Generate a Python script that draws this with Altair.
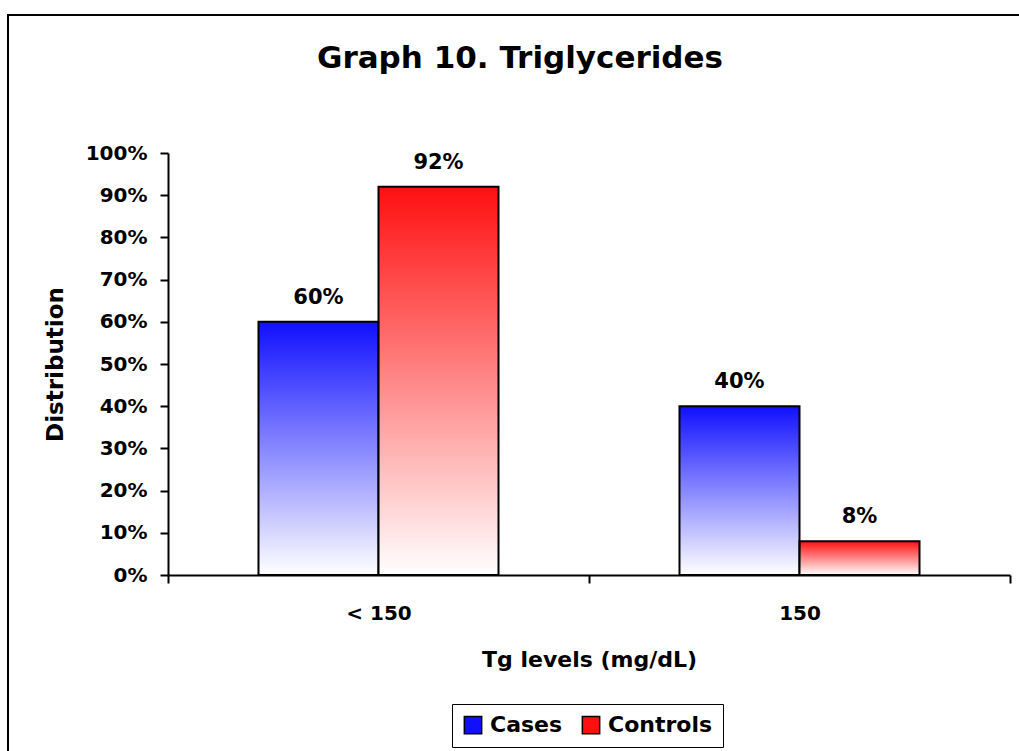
import altair as alt
import pandas as pd

levels = ["< 150", "150"]
series = ["Cases", "Controls"]
cases = [60, 40]
controls = [92, 8]
series_colors = ["#1010ff", "#ff1010"]
y_ticks = [0, 10, 20, 30, 40, 50, 60, 70, 80, 90, 100]
title_text = "Graph 10. Triglycerides"
x_title = "Tg levels (mg/dL)"
y_title = "Distribution"

rows = []
for i, lv in enumerate(levels):
    rows.append({"level": lv, "series": series[0], "value": cases[i] / 100})
    rows.append({"level": lv, "series": series[1], "value": controls[i] / 100})
df = pd.DataFrame(rows)

F = "DejaVu Sans"

white_fade = {
    "gradient": "linear", "x1": 0, "y1": 0, "x2": 0, "y2": 1,
    "stops": [{"offset": 0, "color": "rgba(255,255,255,0)"},
              {"offset": 1, "color": "rgba(255,255,255,1)"}],
}

x = alt.X("level:N", sort=levels,
          scale=alt.Scale(paddingInner=0, paddingOuter=0),
          axis=alt.Axis(title=x_title, labelAngle=0, tickBand="extent",
                        labelPadding=20, titlePadding=26))
xo = alt.XOffset("series:N", sort=series,
                 scale=alt.Scale(paddingInner=0, paddingOuter=0.754))
y = alt.Y("value:Q", scale=alt.Scale(domain=[0, 1], nice=False),
          axis=alt.Axis(format=".0%", values=[t / 100 for t in y_ticks],
                        title=y_title, labelPadding=13, titlePadding=18,
                        titleFontSize=23, grid=False))

base = alt.Chart(df)

bars = base.mark_bar().encode(
    x=x, xOffset=xo, y=y,
    color=alt.Color("series:N", sort=series,
                    scale=alt.Scale(domain=series, range=series_colors),
                    legend=alt.Legend(
                        title=None, orient="none", legendX=284, legendY=551,
                        direction="horizontal", symbolType="square",
                        symbolSize=300, symbolStrokeColor="black",
                        symbolStrokeWidth=1.5, labelFont=F, labelFontSize=22,
                        labelFontWeight="bold", labelColor="black",
                        labelOffset=6, columnPadding=16, padding=10,
                        strokeColor="black")),
)

overlay = base.mark_bar(fill=white_fade, stroke="black", strokeWidth=2).encode(
    x=x, xOffset=xo, y=y,
)

labels = base.mark_text(dy=-14, baseline="bottom", font=F, fontSize=21,
                        fontWeight="bold", color="black").encode(
    x=x, xOffset=xo, y=y, text=alt.Text("value:Q", format=".0%"),
)

frame = alt.Chart(alt.Data(values=[{"a": 1}])).mark_rect(
    fillOpacity=0, stroke="black", strokeWidth=2).encode(
    x=alt.value(-160), x2=alt.value(870), y=alt.value(-138), y2=alt.value(620),
)

chart = alt.layer(frame, bars, overlay, labels).properties(
    width=842, height=422,
    background="white",
    autosize=alt.AutoSizeParams(type="none"),
    padding={"left": 168, "top": 153, "right": 9, "bottom": 176},
    title=alt.TitleParams(title_text, font=F, fontSize=31, fontWeight="bold",
                          color="black", anchor="middle", dx=-69, offset=-85,
                          baseline="alphabetic"),
).configure_view(strokeWidth=0).configure_axis(
    domainColor="black", domainWidth=2, tickColor="black", tickWidth=2,
    tickSize=8, labelFont=F, labelFontSize=20, labelFontWeight="bold",
    labelColor="black", titleFont=F, titleFontSize=22, titleFontWeight="bold",
    titleColor="black",
)

chart.save("out.html", embed_options={"renderer": "svg", "actions": False})
